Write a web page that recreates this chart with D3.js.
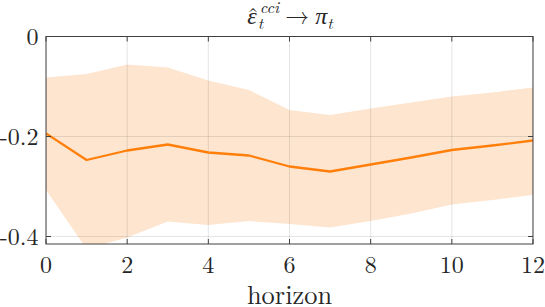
<!DOCTYPE html>
<html><head><meta charset="utf-8">
<script src="https://cdn.jsdelivr.net/npm/d3@7"></script>
<style>body{margin:0;background:#fff}svg{display:block}</style>
</head><body><svg id="c" width="545" height="307"></svg>
<script>
const horizon = [0,1,2,3,4,5,6,7,8,9,10,11,12];
const irf   = [-0.194,-0.247,-0.228,-0.216,-0.232,-0.238,-0.260,-0.270,-0.256,-0.242,-0.227,-0.218,-0.208];
const upper = [-0.082,-0.075,-0.056,-0.062,-0.088,-0.107,-0.147,-0.157,-0.144,-0.132,-0.120,-0.112,-0.102];
const lower = [-0.307,-0.425,-0.402,-0.370,-0.377,-0.369,-0.375,-0.382,-0.369,-0.354,-0.336,-0.327,-0.317];
const xTicks = [0,2,4,6,8,10,12];
const yTicks = [0,-0.2,-0.4];
const yTickLabels = ["0","-0.2","-0.4"];

const FONT = "Latin Modern Roman, CMU Serif, serif";
const INK = "#262626";
const svg = d3.select("#c");
const L=46, R=533, T=36.5, B=244;
const x = d3.scaleLinear().domain([0,12]).range([L,R]);
const y = d3.scaleLinear().domain([-0.415,0]).range([B,T]);

svg.append("clipPath").attr("id","clip").append("rect").attr("x",L).attr("y",T).attr("width",R-L).attr("height",B-T);
const g = svg.append("g").attr("clip-path","url(#clip)");
const data = horizon.map((h,i)=>({h, m:irf[i], u:upper[i], l:lower[i]}));
g.append("path").datum(data)
  .attr("d", d3.area().x(d=>x(d.h)).y0(d=>y(d.l)).y1(d=>y(d.u)))
  .attr("fill","#fde5cf");
// grid
xTicks.forEach(t=>g.append("line").attr("x1",x(t)).attr("x2",x(t)).attr("y1",T).attr("y2",B).attr("stroke","#262626").attr("stroke-opacity",0.12).attr("stroke-width",1));
yTicks.forEach(t=>g.append("line").attr("x1",L).attr("x2",R).attr("y1",y(t)).attr("y2",y(t)).attr("stroke","#262626").attr("stroke-opacity",0.12).attr("stroke-width",1));
g.append("path").datum(data)
  .attr("d", d3.line().x(d=>x(d.h)).y(d=>y(d.m)))
  .attr("fill","none").attr("stroke","#ff7f0a").attr("stroke-width",2.3).attr("stroke-linejoin","round");

// box
svg.append("rect").attr("x",L).attr("y",T).attr("width",R-L).attr("height",B-T).attr("fill","none").attr("stroke","#404040").attr("stroke-width",1);
// ticks
const tk = svg.append("g").attr("stroke","#404040").attr("stroke-width",1);
xTicks.forEach(t=>{tk.append("line").attr("x1",x(t)).attr("x2",x(t)).attr("y1",B).attr("y2",B-5);
  tk.append("line").attr("x1",x(t)).attr("x2",x(t)).attr("y1",T).attr("y2",T+5);});
yTicks.forEach(t=>{tk.append("line").attr("x1",L).attr("x2",L+5).attr("y1",y(t)).attr("y2",y(t));
  tk.append("line").attr("x1",R).attr("x2",R-5).attr("y1",y(t)).attr("y2",y(t));});
function txt(s, xx, yy, fs, anchor, italic){
  return svg.append("text").attr("x",xx).attr("y",yy).attr("font-family",FONT).attr("font-size",fs)
    .attr("fill",INK).attr("text-anchor",anchor||"start").attr("font-style",italic?"italic":"normal").text(s);
}
// tick labels
xTicks.forEach(t=>txt(String(t), x(t), 272.5, 24, "middle"));
yTicks.forEach((t,i)=>txt(yTickLabels[i], 38.5, y(t)+8, 24, "end"));
// xlabel
txt("horizon", (L+R)/2, 303.5, 26.4, "middle");
// title: \hat{\varepsilon}_t^{cci} \rightarrow \pi_t
const TS = 24, SS = 16.5, base = 24;
const tg = svg.append("g");
function tpart(s, fs, dy, italic){
  return tg.append("text").attr("y",base+dy).attr("font-family",FONT).attr("font-size",fs)
    .attr("fill",INK).attr("font-style",italic?"italic":"normal").text(s);
}
const eps = tpart("ε", TS, 0, true);
const hat = tpart("ˆ", TS, 1, false).attr("text-anchor","middle");
const sup = tpart("cci", SS, -11, true);
const sub1 = tpart("t", SS, 5, true);
const arr = tpart("→", TS, 0, false);
const pi = tpart("π", TS, 0, true);
const sub2 = tpart("t", SS, 5, true);
const w = n=>n.node().getComputedTextLength();
const gap = 6;
const total = w(eps) + 2 + Math.max(w(sup), w(sub1)) + gap + w(arr) + gap + w(pi) + w(sub2);
let cx = (L+R)/2 - total/2;
eps.attr("x",cx); hat.attr("x", cx + w(eps)/2 + 1); cx += w(eps) + 1;
sup.attr("x",cx+2); sub1.attr("x",cx); cx += 2 + Math.max(w(sup), w(sub1)) + gap;
arr.attr("x",cx); cx += w(arr) + gap;
pi.attr("x",cx); cx += w(pi);
sub2.attr("x",cx);
</script></body></html>
